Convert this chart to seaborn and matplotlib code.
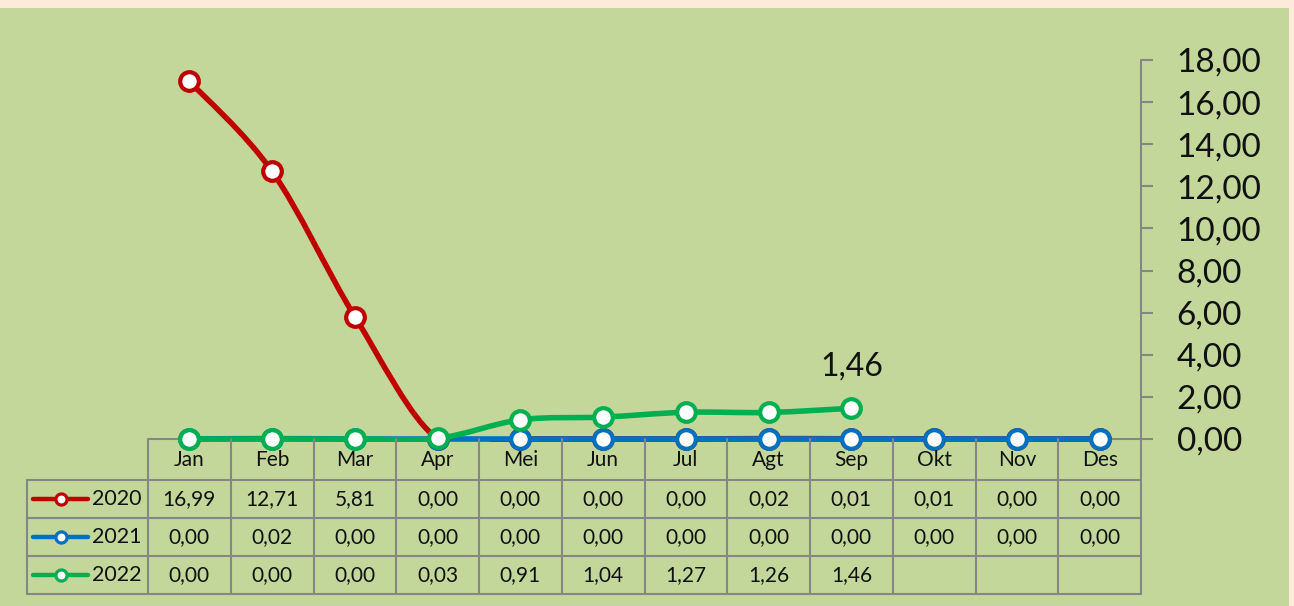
import numpy as np
import pandas as pd
import seaborn as sns
import matplotlib
matplotlib.use("Agg")
import matplotlib.pyplot as plt
from matplotlib.path import Path
from matplotlib.patches import PathPatch, Rectangle

# data
months = ['Jan', 'Feb', 'Mar', 'Apr', 'Mei', 'Jun', 'Jul', 'Agt', 'Sep', 'Okt', 'Nov', 'Des']
years = ['2020', '2021', '2022']
v2020 = [16.99, 12.71, 5.81, 0.00, 0.00, 0.00, 0.00, 0.02, 0.01, 0.01, 0.00, 0.00]
v2021 = [0.00, 0.02, 0.00, 0.00, 0.00, 0.00, 0.00, 0.00, 0.00, 0.00, 0.00, 0.00]
v2022 = [0.00, 0.00, 0.00, 0.03, 0.91, 1.04, 1.27, 1.26, 1.46, None, None, None]
colors = ['#C00000', '#0070C0', '#00B050']
yticks = [0, 2, 4, 6, 8, 10, 12, 14, 16, 18]

series = dict(zip(years, [v2020, v2021, v2022]))
df = pd.DataFrame({y: pd.Series(v, index=months, dtype=float) for y, v in series.items()})

W, H = 1294, 606
GRAY = '#868686'
sns.set_style("white")
plt.rcParams['font.family'] = ['Lato', 'DejaVu Sans']

fig = plt.figure(figsize=(W / 100, H / 100), dpi=100)
fig.patch.set_facecolor('#FDEADA')
fig.add_artist(Rectangle((0, 0), 1289 / W, 598 / H, transform=fig.transFigure,
                         facecolor='#C4D79B', edgecolor='none', zorder=-10))

# main plot area (0 sits at y=439 px, 18 at y=60 px)
ymin = -0.13
px_per_unit = (439 - 60) / 18
bottom_px = 439 - ymin * px_per_unit
ax = fig.add_axes([148 / W, (H - bottom_px) / H, (1141 - 148) / W, (bottom_px - 60) / H])
ax.set_facecolor('none')
ax.set_xlim(-0.5, len(months) - 0.5)
ax.set_ylim(ymin, 18)


def smooth_path(xs, ys):
    # Excel-like smoothed line: cubic bezier through the points (Catmull-Rom)
    pts = np.column_stack([xs, ys])
    n = len(pts)
    verts = [pts[0]]
    codes = [Path.MOVETO]
    for i in range(n - 1):
        p0 = pts[max(i - 1, 0)]
        p1, p2 = pts[i], pts[i + 1]
        p3 = pts[min(i + 2, n - 1)]
        verts += [p1 + (p2 - p0) / 6, p2 - (p3 - p1) / 6, p2]
        codes += [Path.CURVE4] * 3
    return Path(verts, codes)


xpos = np.arange(len(months))
for k, (yr, col) in enumerate(zip(years, colors)):
    s = df[yr].dropna()
    xs = xpos[:len(s)]
    ax.add_patch(PathPatch(smooth_path(xs, s.values), facecolor='none', edgecolor=col,
                           lw=4.0, capstyle='round', joinstyle='round', zorder=2 + 2 * k))
    sns.scatterplot(x=xs, y=s.values, color='white', edgecolor=col, linewidth=3.0, s=180,
                    zorder=3 + 2 * k, clip_on=False, ax=ax, legend=False)

# label on the last 2022 point
last = df['2022'].dropna()
ax.annotate(f"{last.iloc[-1]:.2f}".replace('.', ','), (len(last) - 1, last.iloc[-1]),
            xytext=(0, 30), textcoords='offset points', ha='center', va='center',
            fontsize=23, color='#111111')

# axes styling: value axis on the right
ax.axhline(0, xmin=0, xmax=1, color=GRAY, lw=1.5, zorder=1)
for sp in ['left', 'top', 'bottom']:
    ax.spines[sp].set_visible(False)
ax.spines['right'].set_color(GRAY)
ax.spines['right'].set_linewidth(1.5)
ax.spines['right'].set_bounds(0, 18)
ax.yaxis.tick_right()
ax.set_yticks(yticks)
ax.set_yticklabels([f"{t:.2f}".replace('.', ',') for t in yticks])
ax.tick_params(axis='y', direction='out', length=8.6, width=1.5, color=GRAY,
               pad=17, labelsize=24, labelcolor='#111111')
ax.set_xticks([])
ax.set_xlabel('')
ax.set_ylabel('')

# data table below the plot (y in pixel rows, x in category units)
col_w = (1141 - 148) / 12
x_left = -0.5 - (148 - 27) / col_w
rows = [439, 480, 518, 556, 594]
tab = fig.add_axes([27 / W, (H - 594) / H, (1141 - 27) / W, (594 - 439) / H])
tab.set_facecolor('none')
tab.set_xlim(x_left, len(months) - 0.5)
tab.set_ylim(594, 439)
tab.axis('off')

for yl in rows[1:]:
    tab.plot([x_left, len(months) - 0.5], [yl, yl], color=GRAY, lw=1.5, clip_on=False)
for i in range(len(months) + 1):
    tab.plot([i - 0.5, i - 0.5], [439, 594], color=GRAY, lw=1.5, clip_on=False)
tab.plot([x_left, x_left], [480, 594], color=GRAY, lw=1.5, clip_on=False)

for i, m in enumerate(months):
    tab.text(i, 460, m, ha='center', va='center', fontsize=15, color='#111111')


def px2x(px):
    return -0.5 + (px - 148) / col_w


for r, (yr, col) in enumerate(zip(years, colors)):
    yc = (rows[r + 1] + rows[r + 2]) / 2
    tab.plot([px2x(33), px2x(88)], [yc, yc], color=col, lw=3.2, solid_capstyle='round',
             clip_on=False)
    tab.plot([px2x(61)], [yc], marker='o', ms=8, mfc='white', mec=col, mew=2.3,
             clip_on=False)
    tab.text(px2x(92), yc, yr, ha='left', va='center', fontsize=15.5, color='#111111')
    for i, v in enumerate(df[yr].values):
        if not np.isnan(v):
            tab.text(i, yc, f"{v:.2f}".replace('.', ','), ha='center', va='center',
                     fontsize=15, color='#111111')

fig.savefig('out.png', dpi=100, facecolor=fig.get_facecolor())
